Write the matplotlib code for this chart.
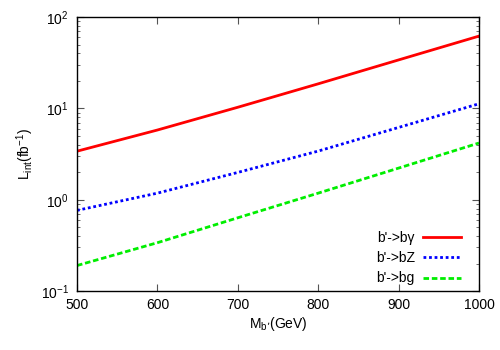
import matplotlib
matplotlib.use("Agg")
import matplotlib.pyplot as plt
from matplotlib.ticker import LogLocator, FixedLocator, NullFormatter

plt.rcParams['font.family'] = ['Liberation Sans', 'DejaVu Sans']

mass = [500, 600, 700, 800, 900, 1000]
l_bgamma = [3.4, 5.8, 10.3, 18.6, 34.0, 62.0]
l_bZ = [0.764, 1.18, 1.99, 3.41, 6.19, 11.25]
l_bg = [0.19, 0.338, 0.634, 1.18, 2.22, 4.18]
labels = ["b'->b\u03b3", "b'->bZ", "b'->bg"]

fig = plt.figure(figsize=(5, 3.5), dpi=100)
ax = fig.add_axes([0.154, 0.1686, 0.804, 0.7824])

ax.plot(mass, l_bgamma, color='#ff0000', lw=2, ls='-', label=labels[0])
ax.plot(mass, l_bZ, color='#0000ff', lw=2, ls=(0, (1, 1)), label=labels[1])
ax.plot(mass, l_bg, color='#00ee00', lw=2, ls=(0, (2, 1)), label=labels[2])

ax.set_yscale('log')
ax.set_xlim(500, 1000)
ax.set_ylim(0.1, 100)
ax.xaxis.set_major_locator(FixedLocator([500, 600, 700, 800, 900, 1000]))
ax.yaxis.set_major_locator(LogLocator(base=10, numticks=10))
ax.yaxis.set_minor_locator(LogLocator(base=10, subs=range(2, 10), numticks=10))
ax.yaxis.set_minor_formatter(NullFormatter())
ax.tick_params(which='both', direction='in', top=True, right=True, labelsize=10, color='#555555')
ax.tick_params(which='major', length=5)
ax.tick_params(which='minor', length=2.5)
ax.tick_params(axis='x', pad=5)
ax.tick_params(axis='y', pad=6)
for s in ax.spines.values():
    s.set_linewidth(1)

ax.set_xlabel("M$_{\\mathregular{b\u2019}}$(GeV)", fontsize=10, labelpad=2)
ax.set_ylabel("L$_{\\mathregular{int}}$(fb$^{\\mathregular{-1}}$)", fontsize=10, labelpad=3)

leg = ax.legend(loc='lower right', bbox_to_anchor=(0.970, 0.0), frameon=False, fontsize=10,
                markerfirst=False, handlelength=2.75, handletextpad=0.6, labelspacing=0.45,
                borderaxespad=0.0)
for t in leg.get_texts():
    t.set_ha('right')

fig.savefig('out.png', dpi=100)
